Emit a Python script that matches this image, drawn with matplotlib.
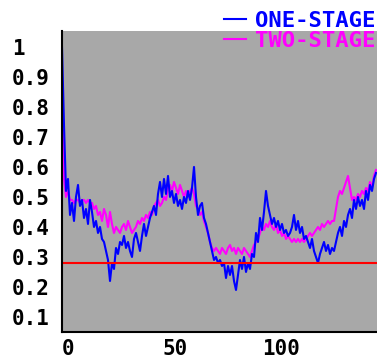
import matplotlib
matplotlib.use("Agg")
import matplotlib.pyplot as plt
import numpy as np

# per-step error rate of the two models
one_stage = [
    1.00, 0.74, 0.52, 0.56, 0.44, 0.48, 0.42, 0.50, 0.54, 0.47,
    0.49, 0.43, 0.46, 0.41, 0.49, 0.45, 0.40, 0.42, 0.38, 0.40,
    0.36, 0.35, 0.32, 0.29, 0.22, 0.28, 0.26, 0.33, 0.31, 0.35,
    0.34, 0.37, 0.33, 0.35, 0.32, 0.30, 0.36, 0.38, 0.35, 0.32,
    0.37, 0.41, 0.37, 0.40, 0.43, 0.45, 0.47, 0.44, 0.51, 0.55,
    0.50, 0.56, 0.51, 0.57, 0.50, 0.52, 0.48, 0.51, 0.47, 0.49,
    0.46, 0.50, 0.48, 0.52, 0.49, 0.53, 0.60, 0.50, 0.44, 0.47,
    0.48, 0.43, 0.41, 0.38, 0.35, 0.32, 0.29, 0.30, 0.28, 0.29,
    0.27, 0.28, 0.23, 0.27, 0.24, 0.27, 0.22, 0.19, 0.24, 0.29,
    0.26, 0.30, 0.25, 0.28, 0.26, 0.31, 0.30, 0.38, 0.35, 0.43,
    0.39, 0.45, 0.52, 0.47, 0.44, 0.41, 0.43, 0.40, 0.42, 0.39,
    0.41, 0.38, 0.39, 0.37, 0.38, 0.40, 0.44, 0.39, 0.42, 0.38,
    0.40, 0.36, 0.37, 0.35, 0.33, 0.36, 0.32, 0.30, 0.28, 0.31,
    0.33, 0.35, 0.32, 0.34, 0.31, 0.33, 0.32, 0.35, 0.38, 0.40,
    0.37, 0.42, 0.40, 0.44, 0.46, 0.43, 0.49, 0.46, 0.50, 0.47,
    0.49, 0.46, 0.52, 0.49, 0.54, 0.52, 0.56, 0.58,
]
two_stage = [
    0.82, 0.56, 0.50, 0.52, 0.49, 0.49, 0.48, 0.49, 0.49, 0.48,
    0.49, 0.49, 0.48, 0.49, 0.48, 0.48, 0.46, 0.47, 0.44, 0.45,
    0.42, 0.46, 0.44, 0.40, 0.45, 0.41, 0.38, 0.40, 0.39, 0.38,
    0.40, 0.41, 0.39, 0.42, 0.40, 0.38, 0.39, 0.40, 0.42, 0.41,
    0.43, 0.42, 0.44, 0.43, 0.45, 0.44, 0.47, 0.48, 0.49, 0.47,
    0.48, 0.50, 0.49, 0.53, 0.54, 0.52, 0.55, 0.53, 0.51, 0.54,
    0.52, 0.50, 0.52, 0.50, 0.52, 0.53, 0.51, 0.47, 0.46, 0.44,
    0.45, 0.42, 0.40, 0.38, 0.35, 0.33, 0.32, 0.33, 0.32, 0.31,
    0.33, 0.32, 0.31, 0.33, 0.34, 0.32, 0.33, 0.31, 0.33, 0.32,
    0.31, 0.33, 0.32, 0.31, 0.30, 0.32, 0.34, 0.35, 0.36, 0.38,
    0.40, 0.39, 0.41, 0.40, 0.42, 0.40, 0.39, 0.41, 0.38, 0.39,
    0.37, 0.38, 0.36, 0.37, 0.36, 0.35, 0.36, 0.35, 0.36, 0.35,
    0.36, 0.35, 0.36, 0.37, 0.38, 0.37, 0.38, 0.39, 0.40, 0.39,
    0.41, 0.40, 0.41, 0.42, 0.41, 0.42, 0.42, 0.46, 0.50, 0.52,
    0.51, 0.53, 0.55, 0.57, 0.53, 0.49, 0.50, 0.49, 0.51, 0.50,
    0.52, 0.51, 0.53, 0.52, 0.55, 0.53, 0.57, 0.59,
]
threshold = 0.28

x_ticks = [0, 50, 100]
y_ticks = [0.1, 0.2, 0.3, 0.4, 0.5, 0.6, 0.7, 0.8, 0.9, 1.0]
y_labels = ["0.1", "0.2", "0.3", "0.4", "0.5", "0.6", "0.7", "0.8", "0.9", "1"]

W, H = 377, 362
fig = plt.figure(figsize=(W / 100, H / 100), dpi=100)
ax = fig.add_axes([62 / W, 30 / H, 315 / W, 301 / H])
ax.set_facecolor("#a8a8a8")

steps = np.arange(len(one_stage))
ax.plot(steps, two_stage, color="#ff00ff", lw=1.5, label="TWO-STAGE")
ax.plot(steps, one_stage, color="#0000ff", lw=1.5, label="ONE-STAGE")
ax.axhline(threshold, color="#ff0000", lw=1.5)

ax.set_xlim(0, 157.5)
ax.set_ylim(0.05, 1.053)

for side in ("top", "right"):
    ax.spines[side].set_visible(False)
for side in ("left", "bottom"):
    ax.spines[side].set_color("black")
    ax.spines[side].set_linewidth(1.5)

font = dict(family="DejaVu Sans Mono", weight="bold", size=15)
ax.set_yticks(y_ticks)
ax.set_yticklabels(y_labels, fontdict=font, ha="left")
ax.set_xticks(x_ticks)
ax.set_xticklabels([str(t) for t in x_ticks], fontdict=font, ha="left")
ax.tick_params(axis="y", length=0, pad=36)
ax.tick_params(axis="x", length=0, pad=5)

handles, labels = ax.get_legend_handles_labels()
fig.legend(handles[::-1], labels[::-1], loc="upper right",
           bbox_to_anchor=(375 / W, 1 - 11 / H), frameon=False,
           prop=dict(family="DejaVu Sans Mono", weight="bold", size=16),
           handlelength=1.0, handletextpad=0.4, labelspacing=0.0,
           borderpad=0, borderaxespad=0, labelcolor="linecolor")

fig.savefig("out.png", dpi=100)
